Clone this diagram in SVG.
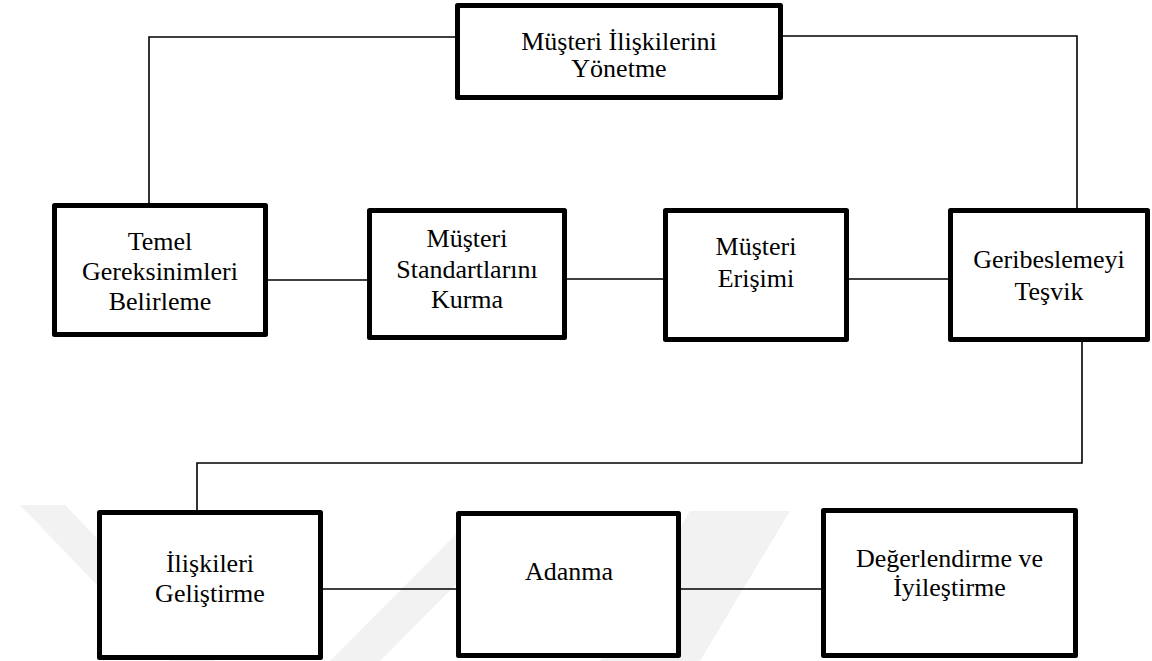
<svg xmlns="http://www.w3.org/2000/svg" width="1152" height="661" viewBox="0 0 1152 661">
<style>
.box{fill:#fff;stroke:#000;stroke-width:5;stroke-linejoin:round}
.ln{fill:none;stroke:#000;stroke-width:1.6}
.t{font-family:'Liberation Serif','Times New Roman',Tinos,'DejaVu Serif',serif;font-size:26px;fill:#000;text-anchor:middle}
.wm{fill:#f2f2f2}
</style>
<rect width="1152" height="661" fill="#fff"/>
<g id="watermark">
<polygon class="wm" points="20,505 65,505 215,661 170,661"/>
<polygon class="wm" points="470,520 520,520 380,661 330,661"/>
<polygon class="wm" points="690,511 790,511 700,661 600,661"/>
</g>
<g id="connectors">
<polyline class="ln" points="149,203 149,37 455,37"/>
<polyline class="ln" points="783,36 1077,36 1077,208"/>
<line class="ln" x1="268" y1="280" x2="367" y2="280"/>
<line class="ln" x1="567" y1="279" x2="663" y2="279"/>
<line class="ln" x1="849" y1="279" x2="948" y2="279"/>
<polyline class="ln" points="1082,342 1082,463 197,463 197,510"/>
<line class="ln" x1="323" y1="589" x2="456" y2="589"/>
<line class="ln" x1="681" y1="589" x2="821" y2="589"/>
</g>
<g id="n-top">
<rect class="box" x="457.5" y="5.5" width="323" height="92"/>
<text class="t" font-family="Liberation Serif" x="619" y="50">Müşteri İlişkilerini</text>
<text class="t" font-family="Liberation Serif" x="619" y="77">Yönetme</text>
</g>
<g id="n-temel">
<rect class="box" x="54.5" y="205.5" width="211" height="129"/>
<text class="t" font-family="Liberation Serif" x="160" y="250">Temel</text>
<text class="t" font-family="Liberation Serif" x="160" y="280">Gereksinimleri</text>
<text class="t" font-family="Liberation Serif" x="160" y="310">Belirleme</text>
</g>
<g id="n-standart">
<rect class="box" x="369.5" y="210.5" width="195" height="127"/>
<text class="t" font-family="Liberation Serif" x="467" y="247">Müşteri</text>
<text class="t" font-family="Liberation Serif" x="467" y="278">Standartlarını</text>
<text class="t" font-family="Liberation Serif" x="467" y="308">Kurma</text>
</g>
<g id="n-erisim">
<rect class="box" x="665.5" y="210.5" width="181" height="129"/>
<text class="t" font-family="Liberation Serif" x="756" y="255">Müşteri</text>
<text class="t" font-family="Liberation Serif" x="756" y="287">Erişimi</text>
</g>
<g id="n-geri">
<rect class="box" x="950.5" y="210.5" width="197" height="129"/>
<text class="t" font-family="Liberation Serif" x="1049" y="268">Geribeslemeyi</text>
<text class="t" font-family="Liberation Serif" x="1049" y="300">Teşvik</text>
</g>
<g id="n-iliski">
<rect class="box" x="99.5" y="512.5" width="221" height="145"/>
<text class="t" font-family="Liberation Serif" x="210" y="572">İlişkileri</text>
<text class="t" font-family="Liberation Serif" x="210" y="602">Geliştirme</text>
</g>
<g id="n-adanma">
<rect class="box" x="458.5" y="513.5" width="220" height="142"/>
<text class="t" font-family="Liberation Serif" x="569" y="580">Adanma</text>
</g>
<g id="n-deger">
<rect class="box" x="823.5" y="510.5" width="252" height="145"/>
<text class="t" font-family="Liberation Serif" x="949.5" y="567">Değerlendirme ve</text>
<text class="t" font-family="Liberation Serif" x="949.5" y="596">İyileştirme</text>
</g>
</svg>
